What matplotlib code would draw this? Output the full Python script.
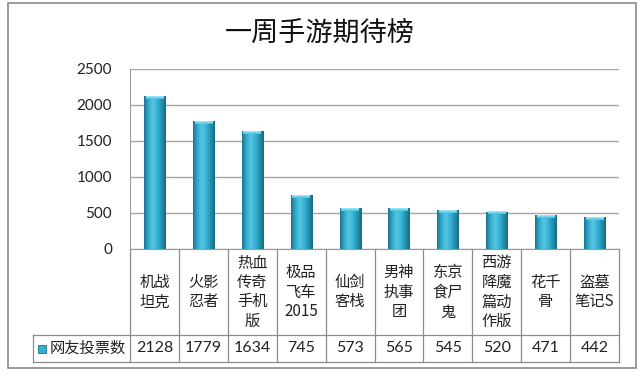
import matplotlib
matplotlib.use("Agg")
import matplotlib.pyplot as plt
import numpy as np
from matplotlib.colors import LinearSegmentedColormap
from matplotlib.patches import Rectangle
import matplotlib.transforms as mtransforms

plt.rcParams['font.family'] = ['Noto Sans CJK SC', 'DejaVu Sans']

title = "一周手游期待榜"
series_name = "网友投票数"
categories = ["机战\n坦克", "火影\n忍者", "热血\n传奇\n手机\n版", "极品\n飞车\n2015", "仙剑\n客栈",
              "男神\n执事\n团", "东京\n食尸\n鬼", "西游\n降魔\n篇动\n作版", "花千\n骨", "盗墓\n笔记S"]
values = [2128, 1779, 1634, 745, 573, 565, 545, 520, 471, 442]
yticks = [0, 500, 1000, 1500, 2000, 2500]

W, H = 640, 377
fig = plt.figure(figsize=(W / 100, H / 100), dpi=100)

# outer chart border
fig.patches.append(Rectangle((8 / W, 1 - 368 / H), 628 / W, 365 / H, transform=fig.transFigure,
                             fill=False, edgecolor='#8a8a8a', linewidth=1.2))

ax_l, ax_r, ax_t, ax_b = 130, 619, 69, 249
ax = fig.add_axes([ax_l / W, 1 - ax_b / H, (ax_r - ax_l) / W, (ax_b - ax_t) / H])

num_font = ['Lato', 'DejaVu Sans']

n = len(values)
x = np.arange(n)
ax.set_xlim(-0.5, n - 0.5)
ax.set_ylim(0, 2500)
ax.set_yticks(yticks)
ax.set_yticklabels([str(t) for t in yticks], fontsize=11, family=num_font)
ax.tick_params(axis='y', length=0, pad=13, colors='#222222')
ax.set_xticks([])
ax.grid(axis='y', color='#a6a6a6', linewidth=1)
ax.set_axisbelow(True)
for s in ['top', 'right']:
    ax.spines[s].set_visible(False)
ax.spines['left'].set_color('#999999')
ax.spines['bottom'].set_color('#999999')

# bars with cylindrical gradient
cmap = LinearSegmentedColormap.from_list('cyl', ['#1d7490', '#32abcb', '#55c6e4', '#3ab4d5', '#2393b2', '#1a6a80'])
grad = np.linspace(0, 1, 64).reshape(1, -1)
bw = 0.43
bars = ax.bar(x, values, width=bw, color='#31aed0', edgecolor='none', zorder=2)
for b in bars:
    x0, w, h = b.get_x(), b.get_width(), b.get_height()
    im = ax.imshow(grad, extent=(x0, x0 + w, 0, h), aspect='auto', cmap=cmap, zorder=3)
    im.set_clip_path(b)
    # light top cap
    ax.imshow(np.linspace(1, 0, 16).reshape(-1, 1), extent=(x0 + w * 0.08, x0 + w * 0.92, h - 40, h),
              aspect='auto', cmap=LinearSegmentedColormap.from_list('cap', ['#45c3e3', '#a8eaf8']), zorder=4)

# data table
tr = mtransforms.blended_transform_factory(ax.transData, ax.transAxes)
def ay(py):
    return (ax_b - py) / (ax_b - ax_t)

y_cat_mid = ay(292)
y_row_top = ay(335)
y_row_bot = ay(362)
y_val_mid = ay(348.5)
leg_left = (33 - ax_l) / (ax_r - ax_l)
lc = '#8c8c8c'
lw = 0.9

for i in range(n + 1):
    ax.plot([i - 0.5, i - 0.5], [0, y_row_bot], transform=tr, color=lc, lw=lw, clip_on=False)
ax.plot([leg_left, 1], [y_row_top, y_row_top], transform=ax.transAxes, color=lc, lw=lw, clip_on=False)
ax.plot([leg_left, 1], [y_row_bot, y_row_bot], transform=ax.transAxes, color=lc, lw=lw, clip_on=False)
ax.plot([leg_left, leg_left], [y_row_top, y_row_bot], transform=ax.transAxes, color=lc, lw=lw, clip_on=False)

for i, (c, v) in enumerate(zip(categories, values)):
    ax.text(i, y_cat_mid, c, transform=tr, ha='center', va='center', fontsize=11,
            linespacing=1.22, color='#222222')
    ax.text(i, y_val_mid, str(v), transform=tr, ha='center', va='center', fontsize=11.5,
            family=num_font, color='#222222')

# legend key in table
kx = (38 - ax_l) / (ax_r - ax_l)
kw = 8 / (ax_r - ax_l)
kh = 8 / (ax_b - ax_t)
ax.add_patch(Rectangle((kx, y_val_mid - kh / 2), kw, kh, transform=ax.transAxes, facecolor='#31aed0',
                       edgecolor='#1b6f86', lw=0.6, clip_on=False))
ax.text((50 - ax_l) / (ax_r - ax_l), y_val_mid, series_name, transform=ax.transAxes, ha='left',
        va='center', fontsize=11, color='#222222')

fig.text(0.5, 1 - 33 / H, title, ha='center', va='center', fontsize=19.5, color='#111111')

fig.savefig('out.png', dpi=100)
